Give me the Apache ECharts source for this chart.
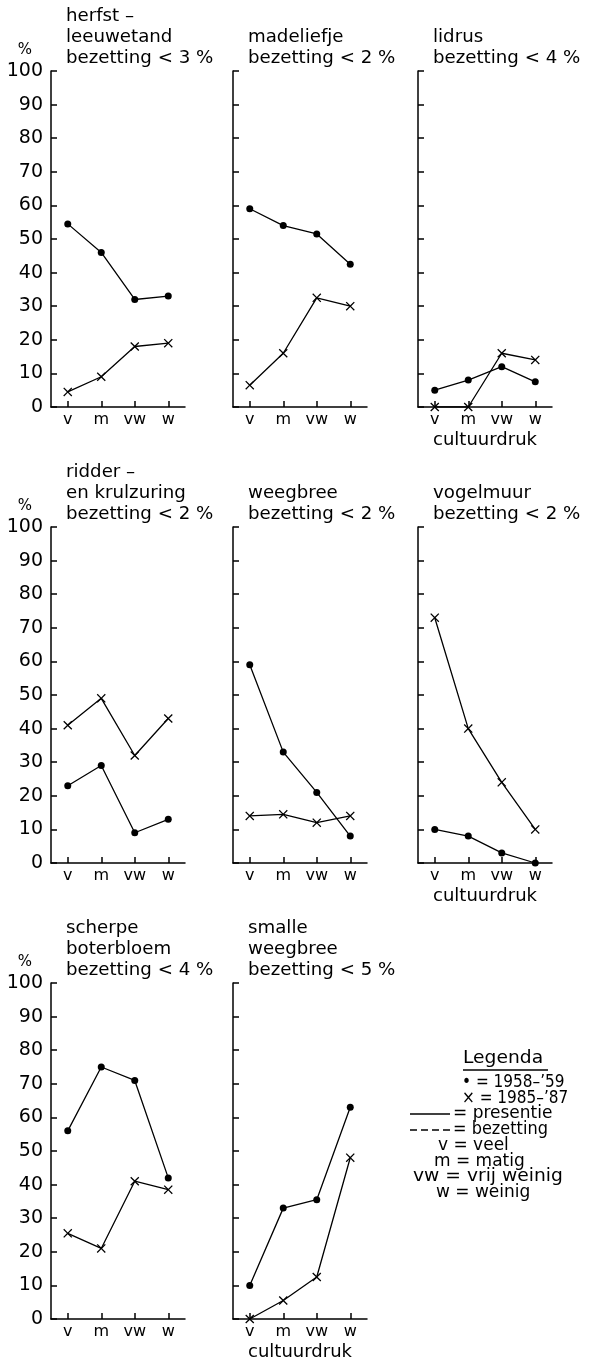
<!DOCTYPE html>
<html><head><meta charset="utf-8">
<script src="https://cdn.jsdelivr.net/npm/echarts@6/dist/echarts.min.js"></script>
<style>html,body{margin:0;padding:0;background:#fff}#c{width:593px;height:1363px}</style>
</head><body><div id="c"></div>
<script>
// ---- data ----
const categories = ['v', 'm', 'vw', 'w'];
const yMin = 0, yMax = 100, yStep = 10;

const herfstDot = [54.5, 46, 32, 33];
const herfstCross = [4.5, 9, 18, 19];
const madeliefjeDot = [59, 54, 51.5, 42.5];
const madeliefjeCross = [6.5, 16, 32.5, 30];
const lidrusDot = [5, 8, 12, 7.5];
const lidrusCross = [0, 0, 16, 14];
const zuringDot = [23, 29, 9, 13];
const zuringCross = [41, 49, 32, 43];
const weegbreeDot = [59, 33, 21, 8];
const weegbreeCross = [14, 14.5, 12, 14];
const vogelmuurDot = [10, 8, 3, 0];
const vogelmuurCross = [73, 40, 24, 10];
const boterbloemDot = [56, 75, 71, 42];
const boterbloemCross = [25.5, 21, 41, 38.5];
const smalleDot = [10, 33, 35.5, 63];
const smalleCross = [0, 5.5, 12.5, 48];

const titles = [
  ['herfst –', 'leeuwetand', 'bezetting < 3 %'],
  ['madeliefje', 'bezetting < 2 %'],
  ['lidrus', 'bezetting < 4 %'],
  ['ridder –', 'en krulzuring', 'bezetting < 2 %'],
  ['weegbree', 'bezetting < 2 %'],
  ['vogelmuur', 'bezetting < 2 %'],
  ['scherpe', 'boterbloem', 'bezetting < 4 %'],
  ['smalle', 'weegbree', 'bezetting < 5 %']
];
const dotSeries = [herfstDot, madeliefjeDot, lidrusDot, zuringDot, weegbreeDot, vogelmuurDot, boterbloemDot, smalleDot];
const crossSeries = [herfstCross, madeliefjeCross, lidrusCross, zuringCross, weegbreeCross, vogelmuurCross, boterbloemCross, smalleCross];
const axisName = 'cultuurdruk';
const legendTitle = 'Legenda';
const legendItems = ['• = 1958–\u201959', '× = 1985–\u201987', '= presentie', '= bezetting', 'v = veel', 'm = matig', 'vw = vrij weinig', 'w = weinig'];

// ---- layout ----
const FONT = '"DejaVu Sans", sans-serif';
const colLeft = [51, 233, 418];
const rowTop = [71, 527, 983];
const gW = 134, gH = 336;
const cells = [[0,0],[0,1],[0,2],[1,0],[1,1],[1,2],[2,0],[2,1]];
const namedPanels = [2, 5, 7];
const crossPath = 'path://M0,1 L1,0 L5,4 L9,0 L10,1 L6,5 L10,9 L9,10 L5,6 L1,10 L0,9 L4,5 Z';

const grid = [], xAxis = [], yAxis = [], series = [], graphic = [];
cells.forEach(([r, c], i) => {
  grid.push({left: colLeft[c], top: rowTop[r], width: gW, height: gH});
  xAxis.push({
    gridIndex: i, type: 'category', data: categories, boundaryGap: true,
    axisLine: {lineStyle: {color: '#000', width: 1.5}},
    axisTick: {show: true, inside: true, alignWithLabel: true, length: 6, lineStyle: {color: '#000', width: 1.5}},
    axisLabel: {color: '#000', fontSize: 16, fontFamily: FONT, margin: 5, interval: 0},
    name: namedPanels.includes(i) ? axisName : '',
    nameLocation: 'middle', nameGap: 24,
    nameTextStyle: {color: '#000', fontSize: 18, fontFamily: FONT}
  });
  yAxis.push({
    gridIndex: i, type: 'value', min: yMin, max: yMax, interval: yStep,
    splitLine: {show: false},
    axisLine: {show: true, lineStyle: {color: '#000', width: 1.5}},
    axisTick: {show: true, inside: true, length: 6, lineStyle: {color: '#000', width: 1.5}},
    axisLabel: {show: c === 0, color: '#000', fontSize: 19, fontFamily: FONT, margin: 8}
  });
  series.push({
    type: 'line', xAxisIndex: i, yAxisIndex: i, data: dotSeries[i],
    symbol: 'circle', symbolSize: 7, showAllSymbol: true,
    lineStyle: {color: '#000', width: 1.3}, itemStyle: {color: '#000'}, animation: false
  });
  series.push({
    type: 'line', xAxisIndex: i, yAxisIndex: i, data: crossSeries[i],
    symbol: crossPath, symbolSize: 9, showAllSymbol: true,
    lineStyle: {color: '#000', width: 1.3}, itemStyle: {color: '#000'}, animation: false
  });
  graphic.push({
    type: 'text', x: colLeft[c] + 15, y: rowTop[r] - 2, scaleX: 1.07,
    style: {text: titles[i].join('\n'), font: '17px ' + FONT, fill: '#000', align: 'left', verticalAlign: 'bottom', lineHeight: 21}
  });
  if (c === 0) {
    graphic.push({
      type: 'text', x: 25, y: rowTop[r] - 21,
      style: {text: '%', font: '15px ' + FONT, fill: '#000', align: 'center', verticalAlign: 'middle'}
    });
  }
});

// legend block
graphic.push({type: 'text', x: 463, y: 1059, scaleX: 1.1,
  style: {text: legendTitle, font: '17px ' + FONT, fill: '#000', align: 'left', verticalAlign: 'middle'}});
graphic.push({type: 'line', shape: {x1: 463, y1: 1070, x2: 548, y2: 1070}, style: {stroke: '#000', lineWidth: 1.3}});
const legX = [462, 462, 453, 453, 438, 434, 413, 436];
const legY = [1083, 1099, 1114, 1130, 1146, 1162, 1177, 1193];
const legScale = [0.9, 0.9, 1.0, 0.95, 1.0, 1.0, 1.1, 1.0];
legendItems.forEach((t, k) => {
  graphic.push({type: 'text', x: legX[k], y: legY[k], scaleX: legScale[k],
    style: {text: t, font: '17px ' + FONT, fill: '#000', align: 'left', verticalAlign: 'middle'}});
});
graphic.push({type: 'line', shape: {x1: 410, y1: 1114, x2: 450, y2: 1114}, style: {stroke: '#000', lineWidth: 1.5}});
graphic.push({type: 'line', shape: {x1: 410, y1: 1130, x2: 450, y2: 1130}, style: {stroke: '#000', lineWidth: 1.5, lineDash: [7, 4]}});

const chart = echarts.init(document.getElementById('c'), null, {renderer: 'canvas'});
chart.setOption({backgroundColor: '#fff', animation: false, grid, xAxis, yAxis, series, graphic});
</script></body></html>
